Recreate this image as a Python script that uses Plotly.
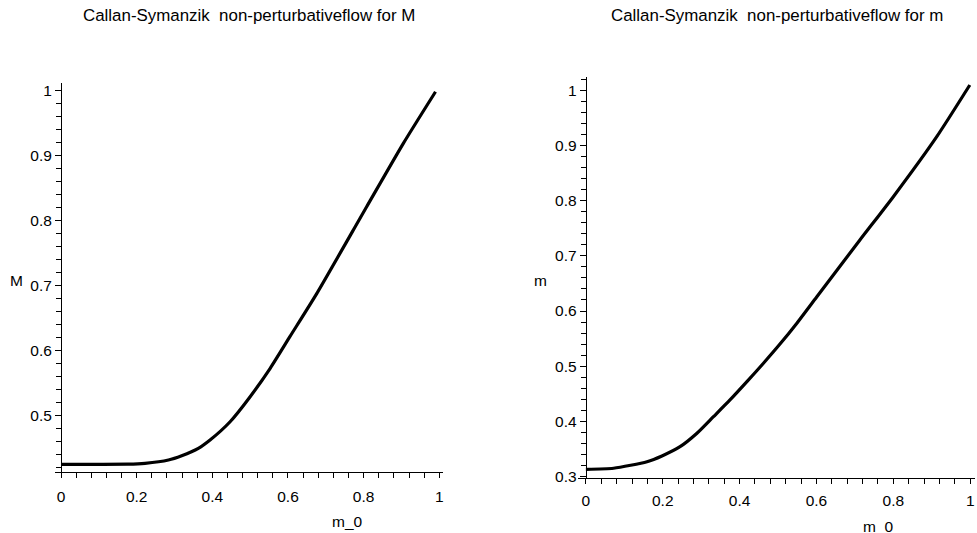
import plotly.graph_objects as go

# Left panel: M versus m_0
M_m0 = [0.0, 0.10, 0.177, 0.222, 0.284, 0.319, 0.363, 0.394, 0.447, 0.500,
        0.553, 0.605, 0.676, 0.808, 0.905, 0.99]
M_vals = [0.4254, 0.4254, 0.4256, 0.4269, 0.432, 0.4386, 0.450, 0.4628, 0.4909, 0.5294,
          0.5731, 0.6217, 0.688, 0.8217, 0.9192, 0.9986]

# Right panel: m versus m_0
m_m0 = [0.0, 0.072, 0.159, 0.198, 0.245, 0.289, 0.332, 0.375, 0.419, 0.462,
        0.505, 0.549, 0.601, 0.713, 0.800, 0.913, 0.999]
m_vals = [0.3128, 0.3147, 0.3266, 0.3370, 0.3538, 0.3782, 0.4083, 0.4386, 0.4718, 0.5052,
          0.540, 0.578, 0.626, 0.7288, 0.8074, 0.9163, 1.010]

title_left = "Callan-Symanzik  non-perturbativeflow for M"
title_right = "Callan-Symanzik  non-perturbativeflow for m"

W, H = 977, 533
FONT = "Liberation Sans, Arial, sans-serif"

fig = go.Figure()
fig.add_trace(go.Scatter(x=M_m0, y=M_vals, mode="lines", cliponaxis=False,
                         line=dict(color="black", width=3.2, shape="spline", smoothing=0.6),
                         xaxis="x", yaxis="y", showlegend=False))
fig.add_trace(go.Scatter(x=m_m0, y=m_vals, mode="lines", cliponaxis=False,
                         line=dict(color="black", width=3.2, shape="spline", smoothing=0.6),
                         xaxis="x2", yaxis="y2", showlegend=False))

def px_x(p):
    return p / W

def px_y(p):
    return 1 - p / H

tickfont = dict(family=FONT, size=15.5, color="black")

common = dict(showgrid=False, zeroline=False, showline=True, linecolor="black", linewidth=1,
              ticks="outside", tickcolor="black", tickwidth=1, tickfont=tickfont,
              automargin=False)

fig.update_layout(
    width=W, height=H,
    margin=dict(l=0, r=0, t=0, b=0),
    paper_bgcolor="white", plot_bgcolor="white",
    xaxis=dict(domain=[px_x(55), px_x(443.3)], range=[-0.0159, 1.0106], anchor="y",
               dtick=0.2, tick0=0, ticklen=5, ticklabelstandoff=5,
               minor=dict(dtick=0.04, ticks="outside", ticklen=5, tickcolor="black", tickwidth=1),
               **common),
    yaxis=dict(domain=[px_y(472.3), px_y(82.7)], range=[0.4131, 1.0125], anchor="free",
               position=px_x(61), dtick=0.1, tick0=0, ticklen=6,
               minor=dict(dtick=0.02, ticks="outside", ticklen=5, tickcolor="black", tickwidth=1),
               **common),
    xaxis2=dict(domain=[px_x(578), px_x(975)], range=[-0.0205, 1.0125], anchor="y2",
                dtick=0.2, tick0=0, ticklen=5, ticklabelstandoff=4,
                minor=dict(dtick=0.04, ticks="outside", ticklen=5, tickcolor="black", tickwidth=1),
                **common),
    yaxis2=dict(domain=[px_y(477.7), px_y(76.7)], range=[0.2976, 1.0251], anchor="free",
                position=px_x(585.7), dtick=0.1, tick0=0, ticklen=6,
                minor=dict(dtick=0.02, ticks="outside", ticklen=5, tickcolor="black", tickwidth=1),
                **common),
)

ann_font_title = dict(family=FONT, size=16.9, color="black")
ann_font = dict(family=FONT, size=15.5, color="black")
annotations = [
    dict(text=title_left, x=px_x(249), y=px_y(15), font=ann_font_title),
    dict(text=title_right, x=px_x(777), y=px_y(15), font=ann_font_title),
    dict(text="M", x=px_x(16), y=px_y(280), font=ann_font),
    dict(text="m", x=px_x(540), y=px_y(280), font=ann_font),
    dict(text="m_0", x=px_x(347), y=px_y(521.7), font=ann_font),
    dict(text="m_0", x=px_x(878), y=px_y(526.7), font=ann_font),
]
for a in annotations:
    a.update(xref="paper", yref="paper", xanchor="center", yanchor="middle", showarrow=False)
fig.update_layout(annotations=annotations)

fig.write_html(
    "out.html",
    config={"displayModeBar": False},
    post_script="document.body.style.margin='0';document.body.style.overflow='hidden';",
)
